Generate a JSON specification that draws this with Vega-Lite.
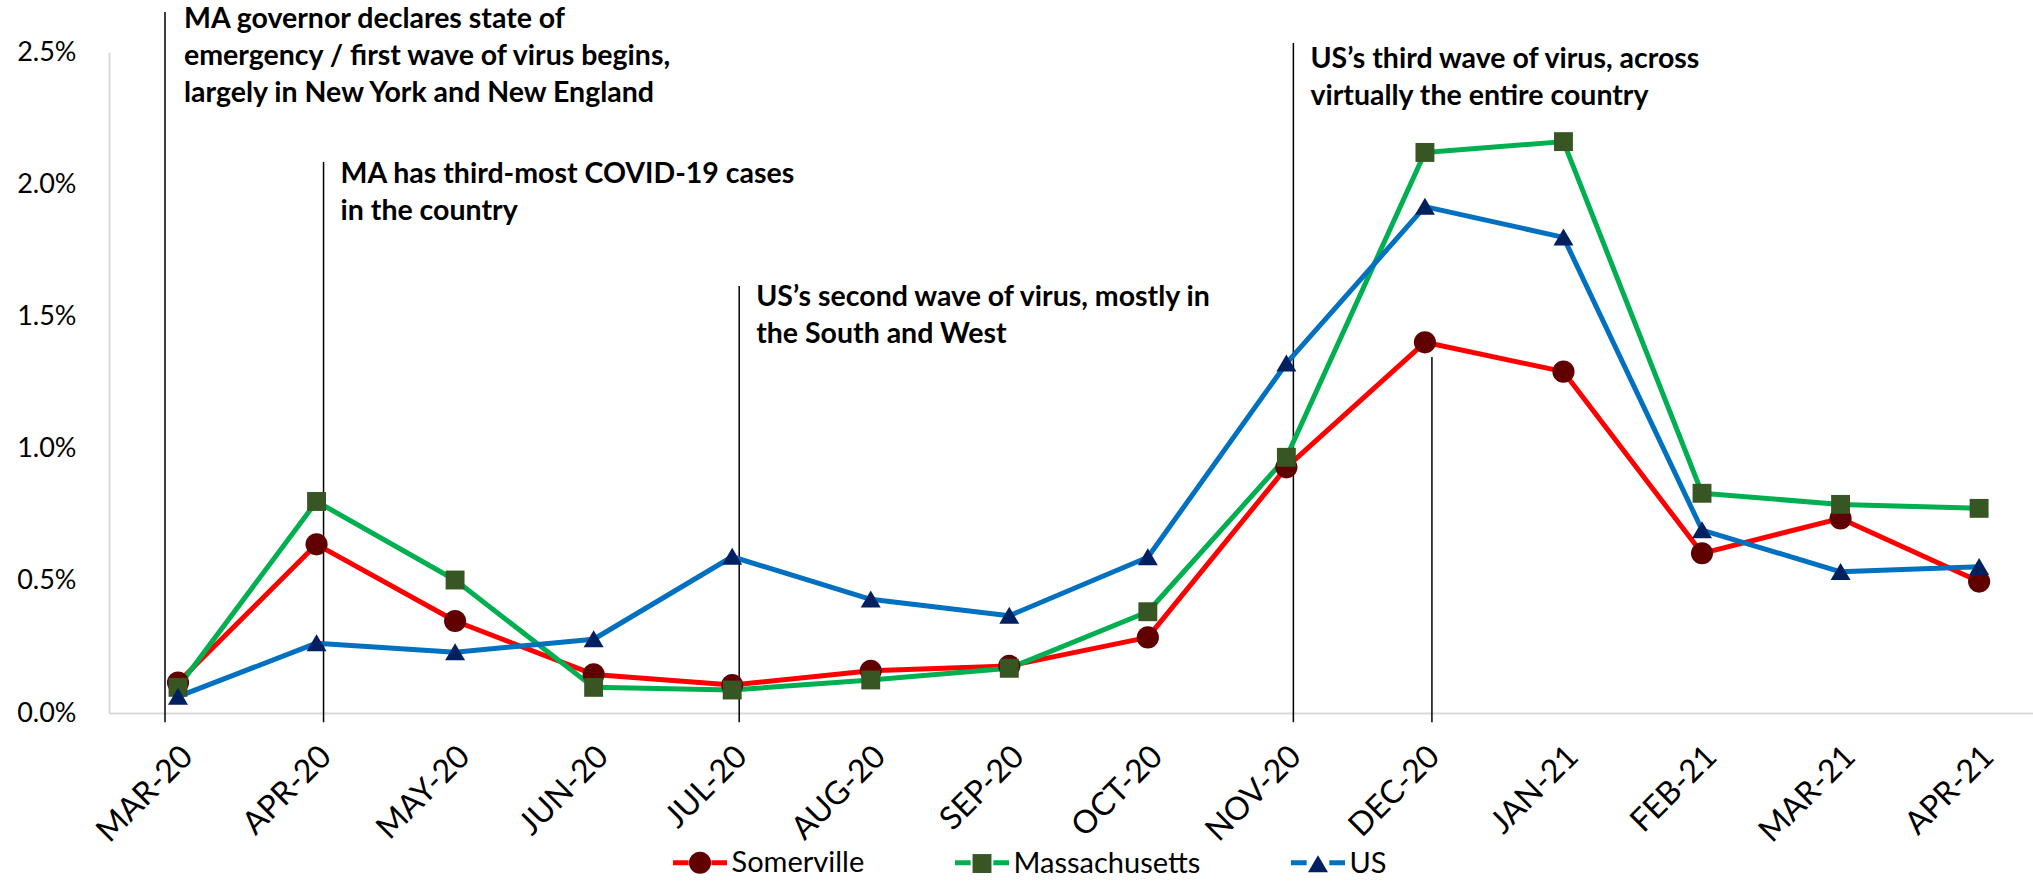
{
  "$schema": "https://vega.github.io/schema/vega-lite/v6.json",
  "width": 1924,
  "height": 661,
  "autosize": {"type": "none"},
  "padding": {"left": 109, "top": 52, "right": 0, "bottom": 170},
  "background": "white",
  "config": {
    "view": {"stroke": null},
    "font": "Lato",
    "axisX": {"labelAngle": -45, "labelAlign": "right", "labelBaseline": "middle", "labelFont": "Lato", "labelFontSize": 32, "labelColor": "#000000", "labelPadding": 38, "labelOffset": 9, "ticks": false, "grid": false, "domainColor": "#D9D9D9", "domainWidth": 2},
    "axisY": {"labelFont": "Lato", "labelFontSize": 27, "labelColor": "#000000", "labelPadding": 33, "ticks": false, "grid": false, "domainColor": "#D9D9D9", "domainWidth": 2}
  },
  "datasets": {
    "rates": [
      {"month": "MAR-20", "series": "Somerville", "rate": 0.00115},
      {"month": "APR-20", "series": "Somerville", "rate": 0.00638},
      {"month": "MAY-20", "series": "Somerville", "rate": 0.00348},
      {"month": "JUN-20", "series": "Somerville", "rate": 0.00146},
      {"month": "JUL-20", "series": "Somerville", "rate": 0.00106},
      {"month": "AUG-20", "series": "Somerville", "rate": 0.0016},
      {"month": "SEP-20", "series": "Somerville", "rate": 0.00178},
      {"month": "OCT-20", "series": "Somerville", "rate": 0.00286},
      {"month": "NOV-20", "series": "Somerville", "rate": 0.00929},
      {"month": "DEC-20", "series": "Somerville", "rate": 0.01402},
      {"month": "JAN-21", "series": "Somerville", "rate": 0.01291},
      {"month": "FEB-21", "series": "Somerville", "rate": 0.00604},
      {"month": "MAR-21", "series": "Somerville", "rate": 0.00736},
      {"month": "APR-21", "series": "Somerville", "rate": 0.00497},
      {"month": "MAR-20", "series": "Massachusetts", "rate": 0.00097},
      {"month": "APR-20", "series": "Massachusetts", "rate": 0.008},
      {"month": "MAY-20", "series": "Massachusetts", "rate": 0.00503},
      {"month": "JUN-20", "series": "Massachusetts", "rate": 0.00097},
      {"month": "JUL-20", "series": "Massachusetts", "rate": 0.00087},
      {"month": "AUG-20", "series": "Massachusetts", "rate": 0.00125},
      {"month": "SEP-20", "series": "Massachusetts", "rate": 0.00169},
      {"month": "OCT-20", "series": "Massachusetts", "rate": 0.00383},
      {"month": "NOV-20", "series": "Massachusetts", "rate": 0.00967},
      {"month": "DEC-20", "series": "Massachusetts", "rate": 0.0212},
      {"month": "JAN-21", "series": "Massachusetts", "rate": 0.02161},
      {"month": "FEB-21", "series": "Massachusetts", "rate": 0.00831},
      {"month": "MAR-21", "series": "Massachusetts", "rate": 0.00789},
      {"month": "APR-21", "series": "Massachusetts", "rate": 0.00774},
      {"month": "MAR-20", "series": "US", "rate": 0.00062},
      {"month": "APR-20", "series": "US", "rate": 0.00264},
      {"month": "MAY-20", "series": "US", "rate": 0.0023},
      {"month": "JUN-20", "series": "US", "rate": 0.00279},
      {"month": "JUL-20", "series": "US", "rate": 0.00591},
      {"month": "AUG-20", "series": "US", "rate": 0.0043},
      {"month": "SEP-20", "series": "US", "rate": 0.00368},
      {"month": "OCT-20", "series": "US", "rate": 0.00589},
      {"month": "NOV-20", "series": "US", "rate": 0.01322},
      {"month": "DEC-20", "series": "US", "rate": 0.01915},
      {"month": "JAN-21", "series": "US", "rate": 0.01799},
      {"month": "FEB-21", "series": "US", "rate": 0.00692},
      {"month": "MAR-21", "series": "US", "rate": 0.00534},
      {"month": "APR-21", "series": "US", "rate": 0.00553}
    ],
    "notes": [
      {"month": "MAR-20", "top": 0.02651, "base": 0.0259, "lines": ["MA governor declares state of", "emergency / first wave of virus begins,", "largely in New York and New England"]},
      {"month": "APR-20", "top": 0.02084, "base": 0.02006, "lines": ["MA has third-most COVID-19 cases", "in the country"]},
      {"month": "JUL-20", "top": 0.01615, "base": 0.01539, "lines": ["US’s second wave of virus, mostly in", "the South and West"]},
      {"month": "NOV-20", "top": 0.02534, "base": 0.02439, "lines": ["US’s third wave of virus, across", "virtually the entire country"]},
      {"month": "DEC-20", "top": 0.01346}
    ]
  },
  "layer": [
    {
      "data": {"name": "notes"},
      "transform": [{"filter": "datum.month === 'MAR-20'"}],
      "mark": {"type": "rule", "color": "#000000", "strokeWidth": 1.5, "xOffset": -13},
      "encoding": {
        "x": {"field": "month", "type": "ordinal", "axis": {"title": null}, "scale": {"type": "point", "domain": ["MAR-20","APR-20","MAY-20","JUN-20","JUL-20","AUG-20","SEP-20","OCT-20","NOV-20","DEC-20","JAN-21","FEB-21","MAR-21","APR-21"], "padding": 0.4435, "align": 0.5615}},
        "y": {"field": "top", "type": "quantitative", "axis": {"title": null, "values": [0, 0.005, 0.01, 0.015, 0.02, 0.025], "format": ".1%"}, "scale": {"domain": [0, 0.025], "nice": false, "zero": true}},
        "y2": {"datum": -0.00035}
      }
    },
    {
      "data": {"name": "notes"},
      "transform": [{"filter": "datum.month !== 'MAR-20'"}],
      "mark": {"type": "rule", "color": "#000000", "strokeWidth": 1.5, "xOffset": 7},
      "encoding": {
        "x": {"field": "month", "type": "ordinal", "axis": {"title": null}},
        "y": {"field": "top", "type": "quantitative", "axis": {"title": null, "values": [0, 0.005, 0.01, 0.015, 0.02, 0.025], "format": ".1%"}},
        "y2": {"datum": -0.00035}
      }
    },
    {
      "data": {"name": "notes"},
      "transform": [{"filter": "datum.month === 'MAR-20'"}],
      "mark": {"type": "text", "align": "left", "baseline": "alphabetic", "font": "Lato", "fontWeight": "bold", "fontSize": 28.5, "lineHeight": 37, "dx": 6, "color": "#000000"},
      "encoding": {
        "x": {"field": "month", "type": "ordinal", "axis": {"title": null}},
        "y": {"field": "base", "type": "quantitative", "axis": {"title": null, "values": [0, 0.005, 0.01, 0.015, 0.02, 0.025], "format": ".1%"}},
        "text": {"field": "lines"}
      }
    },
    {
      "data": {"name": "notes"},
      "transform": [{"filter": "datum.month !== 'MAR-20' && isValid(datum.lines)"}],
      "mark": {"type": "text", "align": "left", "baseline": "alphabetic", "font": "Lato", "fontWeight": "bold", "fontSize": 28.5, "lineHeight": 37, "dx": 24, "color": "#000000"},
      "encoding": {
        "x": {"field": "month", "type": "ordinal", "axis": {"title": null}},
        "y": {"field": "base", "type": "quantitative", "axis": {"title": null, "values": [0, 0.005, 0.01, 0.015, 0.02, 0.025], "format": ".1%"}},
        "text": {"field": "lines"}
      }
    },
    {
      "data": {"name": "rates"},
      "mark": {"type": "line", "strokeWidth": 5, "strokeJoin": "round", "strokeCap": "round"},
      "encoding": {
        "x": {"field": "month", "type": "ordinal", "axis": {"title": null}},
        "y": {"field": "rate", "type": "quantitative", "axis": {"title": null, "values": [0, 0.005, 0.01, 0.015, 0.02, 0.025], "format": ".1%"}},
        "stroke": {"field": "series", "type": "nominal", "sort": ["Somerville", "Massachusetts", "US"], "scale": {"range": ["#FF0000", "#00B050", "#0070C0"]},
          "legend": {"title": null, "orient": "none", "legendX": 561.5, "legendY": 781, "direction": "horizontal", "columns": 3, "padding": 0, "columnPadding": 80, "symbolType": "M-1,0H-0.42M0.42,0H1", "symbolSize": 2916, "symbolStrokeWidth": 5, "labelFont": "Lato", "labelFontSize": 29, "labelColor": "#000000", "labelOffset": 2, "labelLimit": 500, "labelOpacity": 0}},
        "order": {"value": null}
      }
    },
    {
      "data": {"name": "rates"},
      "mark": {"type": "point", "filled": true, "size": 2916, "opacity": 1, "strokeWidth": 0},
      "encoding": {
        "x": {"field": "month", "type": "ordinal", "axis": {"title": null}},
        "y": {"field": "rate", "type": "quantitative", "axis": {"title": null, "values": [0, 0.005, 0.01, 0.015, 0.02, 0.025], "format": ".1%"}},
        "fill": {"field": "series", "type": "nominal", "scale": {"domain": ["Somerville", "Massachusetts", "US"], "range": ["#600000", "#375623", "#002060"]},
          "legend": {"title": null, "orient": "none", "legendX": 561.5, "legendY": 781, "direction": "horizontal", "columns": 3, "padding": 0, "columnPadding": 80, "symbolSize": 2916, "symbolStrokeWidth": 5, "symbolStrokeColor": "transparent", "labelFont": "Lato", "labelFontSize": 29, "labelColor": "#000000", "labelOffset": 2, "labelLimit": 500}},
        "shape": {"field": "series", "type": "nominal", "scale": {"domain": ["Somerville", "Massachusetts", "US"], "range": ["M-1,0M1,0M-0.41,0A0.41,0.41,0,1,1,0.41,0A0.41,0.41,0,1,1,-0.41,0Z", "M-1,0M1,0M-0.35,-0.35H0.35V0.35H-0.35Z", "M-1,0M1,0M0,-0.33L0.37,0.3H-0.37Z"]},
          "legend": {"title": null, "orient": "none", "legendX": 561.5, "legendY": 781, "direction": "horizontal", "columns": 3, "padding": 0, "columnPadding": 80, "symbolSize": 2916, "symbolStrokeWidth": 5, "symbolStrokeColor": "transparent", "labelFont": "Lato", "labelFontSize": 29, "labelColor": "#000000", "labelOffset": 2, "labelLimit": 500}}
      }
    }
  ]
}
